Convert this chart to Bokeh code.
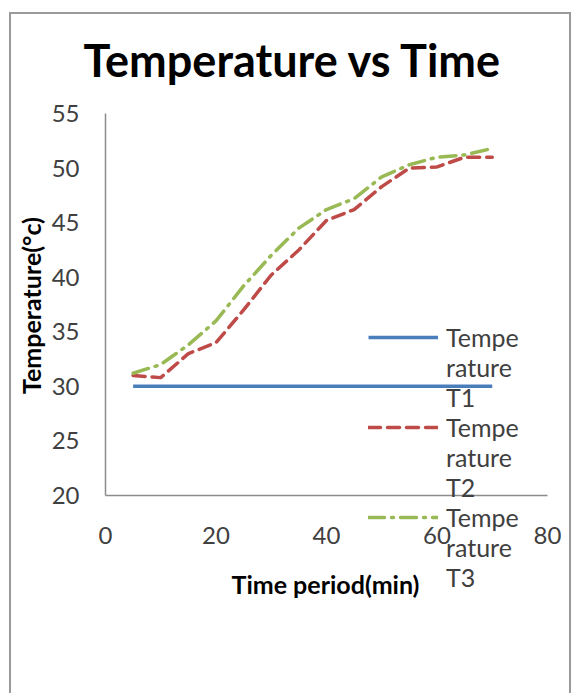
import math
from bokeh.plotting import figure
from bokeh.models import ColumnDataSource, Legend, LegendItem, Range1d, FixedTicker, Label
from bokeh.embed import file_html
from bokeh.resources import INLINE

# ---- data ----
time_min = [5, 10, 15, 20, 25, 30, 35, 40, 45, 50, 55, 60, 65, 70]
temp_t1 = [30, 30, 30, 30, 30, 30, 30, 30, 30, 30, 30, 30, 30, 30]
temp_t2 = [31.0, 30.8, 33.0, 34.0, 37.0, 40.2, 42.5, 45.2, 46.2, 48.3, 50.0, 50.1, 51.0, 51.0]
temp_t3 = [31.2, 32.0, 33.8, 36.0, 39.2, 42.0, 44.5, 46.2, 47.2, 49.2, 50.3, 51.0, 51.2, 51.8]
# legend labels wrap over three lines in the reference
series_label_lines = [["Tempe", "rature", "T1"],
                      ["Tempe", "rature", "T2"],
                      ["Tempe", "rature", "T3"]]
x_ticks = [0, 20, 40, 60, 80]
y_ticks = [20, 25, 30, 35, 40, 45, 50, 55]
x_axis_min, x_axis_max = 0, 80
y_axis_min, y_axis_max = 20, 55

src = ColumnDataSource(dict(x=time_min, t1=temp_t1, t2=temp_t2, t3=temp_t3))

FONT = "Lato"

# The frame covers almost the whole chart box so that tick labels and the legend
# (which hangs below the x axis) are not clipped; axes are fixed at x=0 / y=20.
p = figure(width=558, height=679, output_backend="svg", toolbar_location=None,
           x_range=Range1d(-17.01, 83.98), y_range=Range1d(1.858, 56.374),
           frame_width=558, frame_height=595,
           min_border_left=0, min_border_right=0, min_border_top=84, min_border_bottom=0,
           title="Temperature vs Time")

p.styles = {"border": "2px solid #9a9a9a", "border-bottom": "none",
            "margin-left": "9px", "margin-top": "12px"}

p.title.text_font = FONT
p.title.text_font_size = "45px"
p.title.text_font_style = "bold"
p.title.text_color = "#000000"
p.title.align = "left"
p.title.offset = 72
p.title.standoff = 23

p.outline_line_color = None
p.xgrid.grid_line_color = None
p.ygrid.grid_line_color = None
p.background_fill_color = "white"
p.border_fill_color = "white"

for ax in (p.xaxis[0], p.yaxis[0]):
    ax.axis_line_color = "#8c8c8c"
    ax.axis_line_width = 1.5
    ax.major_tick_line_color = None
    ax.minor_tick_line_color = None
    ax.major_label_text_font = FONT
    ax.major_label_text_font_size = "24px"
    ax.major_label_text_color = "#404040"

p.xaxis.ticker = FixedTicker(ticks=x_ticks)
p.yaxis.ticker = FixedTicker(ticks=y_ticks)
p.xaxis.bounds = (x_axis_min, x_axis_max)
p.yaxis.bounds = (y_axis_min, y_axis_max)
p.xaxis.fixed_location = y_axis_min
p.yaxis.fixed_location = x_axis_min
p.xaxis.major_label_standoff = 26
p.yaxis.major_label_standoff = 20

# axis titles
label_style = dict(text_font=FONT, text_font_size="25px", text_font_style="bold",
                   text_color="#000000", x_units="screen", y_units="screen",
                   text_align="center", text_baseline="middle")
p.add_layout(Label(x=314, y=110, text="Time period(min)", **label_style))
p.add_layout(Label(x=19, y=388, text="Temperature(°c)", angle=math.pi / 2, **label_style))

r1 = p.line("x", "t1", source=src, line_color="#4A7EBB", line_width=3.5)
r2 = p.line("x", "t2", source=src, line_color="#BE4B48", line_width=3.5,
            line_dash="12 7", line_cap="round", line_join="round")
r3 = p.line("x", "t3", source=src, line_color="#98B954", line_width=3.5,
            line_dash="16 7 2 7", line_cap="round", line_join="round")

items = []
for lines, r in zip(series_label_lines, [r1, r2, r3]):
    items.append(LegendItem(label=lines[0], renderers=[r]))
    for extra in lines[1:]:
        items.append(LegendItem(label=extra, renderers=[]))

legend = Legend(items=items, location=(357, 101))
legend.background_fill_alpha = 0
legend.border_line_color = None
legend.label_text_font = FONT
legend.label_text_font_size = "25px"
legend.label_text_color = "#404040"
legend.glyph_width = 70
legend.glyph_height = 30
legend.label_height = 30
legend.label_standoff = 8
legend.spacing = 0
legend.padding = 0
legend.margin = 0
p.add_layout(legend, "center")

open("out.html", "w").write(file_html(p, INLINE))
